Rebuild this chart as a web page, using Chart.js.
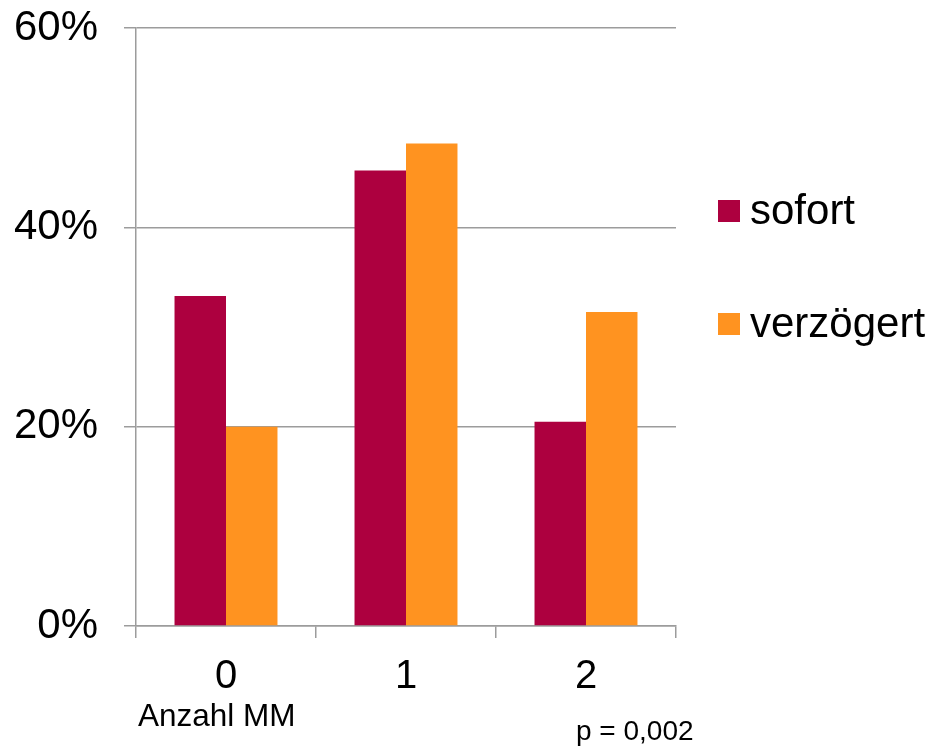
<!DOCTYPE html>
<html>
<head>
<meta charset="utf-8">
<script src="https://cdn.jsdelivr.net/npm/chart.js@4/dist/chart.umd.min.js"></script>
<style>
  html, body { margin: 0; padding: 0; background: #ffffff; }
  #wrap { width: 932px; height: 746px; position: relative; }
</style>
</head>
<body>
<div id="wrap"><canvas id="c" width="932" height="746"></canvas></div>
<script>
// Anteil (%) nach Anzahl MM, getrennt nach Versorgung
const categories = ['0', '1', '2'];
const sofort = [33.1, 45.7, 20.5];
const verzoegert = [20.0, 48.4, 31.5];
const yTicks = [0, 20, 40, 60];
const axisTitle = 'Anzahl MM';
const pValue = 'p = 0,002';

const FONT = '"Liberation Sans", Arial, Helvetica, sans-serif';
const GRID = '#9c9c9c';

// Legend to the right of the plot, plus the axis caption and p-value
const extras = {
  id: 'extras',
  afterDraw(chart) {
    const ctx = chart.ctx;
    ctx.save();
    ctx.textBaseline = 'alphabetic';
    ctx.textAlign = 'left';
    const rows = [200, 313];
    chart.data.datasets.forEach((ds, i) => {
      const y = rows[i];
      ctx.fillStyle = ds.backgroundColor;
      ctx.fillRect(718, y, 22, 22);
      ctx.fillStyle = '#000';
      ctx.font = '42px ' + FONT;
      ctx.fillText(ds.label, 750, y + 24);
    });
    ctx.fillStyle = '#000';
    ctx.font = '31.5px ' + FONT;
    ctx.fillText(axisTitle, 138, 726);
    ctx.font = '28px ' + FONT;
    ctx.fillText(pValue, 576, 740);
    ctx.restore();
  }
};

new Chart(document.getElementById('c'), {
  type: 'bar',
  data: {
    labels: categories,
    datasets: [
      { label: 'sofort', data: sofort, backgroundColor: '#ad003f' },
      { label: 'verzögert', data: verzoegert, backgroundColor: '#ff9320' }
    ]
  },
  options: {
    responsive: false,
    animation: false,
    devicePixelRatio: 1,
    layout: { padding: { left: 0, top: 28, right: 256, bottom: 0 } },
    plugins: { legend: { display: false }, tooltip: { enabled: false } },
    datasets: { bar: { categoryPercentage: 0.572, barPercentage: 1.0 } },
    scales: {
      x: {
        grid: { display: true, drawOnChartArea: false, drawTicks: true, tickLength: 12, offset: true, color: GRID, lineWidth: 1.5 },
        border: { display: true, color: GRID, width: 1.5 },
        ticks: { color: '#000', font: { family: FONT, size: 40 }, padding: 15 },
        afterFit(scale) { scale.height = 120; scale.paddingLeft = 0; scale.paddingRight = 0; }
      },
      y: {
        min: 0,
        max: 60,
        afterBuildTicks(scale) { scale.ticks = yTicks.map(v => ({ value: v })); },
        grid: { color: GRID, lineWidth: 1.5, tickLength: 12, drawTicks: true },
        border: { display: true, color: GRID, width: 1.5 },
        ticks: { color: '#000', font: { family: FONT, size: 42 }, padding: 26, callback: v => v + '%' },
        afterFit(scale) { scale.width = 136; scale.paddingTop = 0; scale.paddingBottom = 0; }
      }
    }
  },
  plugins: [extras]
});
</script>
</body>
</html>
